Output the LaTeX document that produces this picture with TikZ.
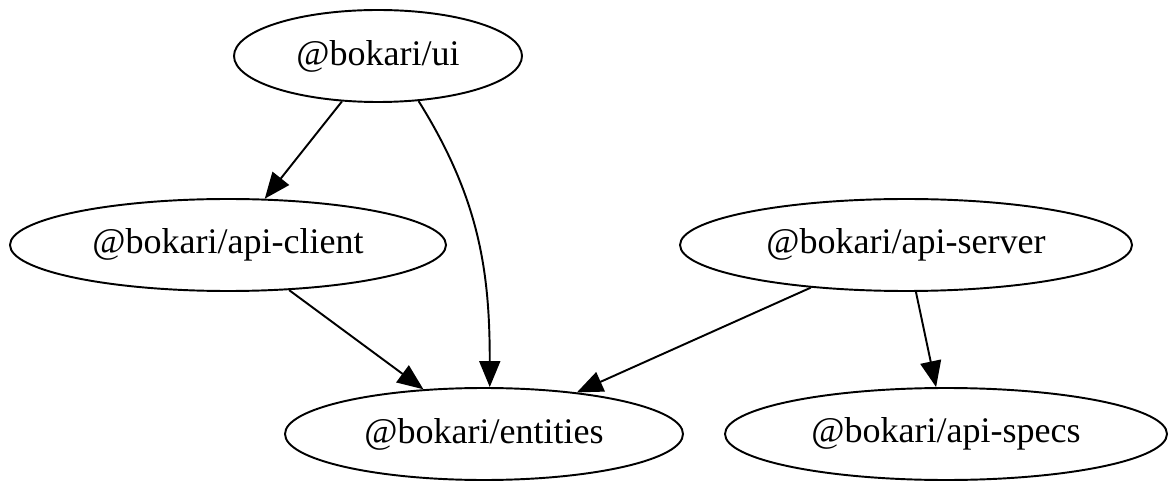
\documentclass[tikz,border=0pt]{standalone}
\usepackage{fontspec}
\setmainfont{Liberation Serif}
\usetikzlibrary{
  shapes.geometric,
  arrows.meta
}
\tikzset{
  every pkg node/.style={draw,line width=1.1pt,ellipse,inner sep=0pt,minimum height=1.84cm},
  dep/.style={draw,line width=1.1pt,-{Triangle[length=0.52cm,width=0.42cm]}},
}

\begin{document}
\begin{tikzpicture}[
  pkg/.style={every pkg node/.try,minimum width=#1},
  font=\fontsize{20.5}{24}\selectfont,
]
\useasboundingbox (0,0) rectangle (23.36,-9.62);
\node[pkg=5.76cm] (ui) at (7.56,-1.12) {@bokari/ui};
\node[pkg=8.72cm] (client) at (4.56,-4.9) {@bokari/api-client};
\node[pkg=9.04cm] (server) at (18.12,-4.9) {@bokari/api-server};
\node[pkg=7.96cm] (entities) at (9.68,-8.68) {@bokari/entities};
\node[pkg=8.84cm] (specs) at (18.92,-8.68) {@bokari/api-specs};

\draw[dep] (ui) -- (client);
\draw[dep] (ui.-48) to[out=-58,in=90] (entities.83);
\draw[dep] (client) -- (entities);
\draw[dep] (server) -- (entities);
\draw[dep] (server) -- (specs);
\end{tikzpicture}
\end{document}
